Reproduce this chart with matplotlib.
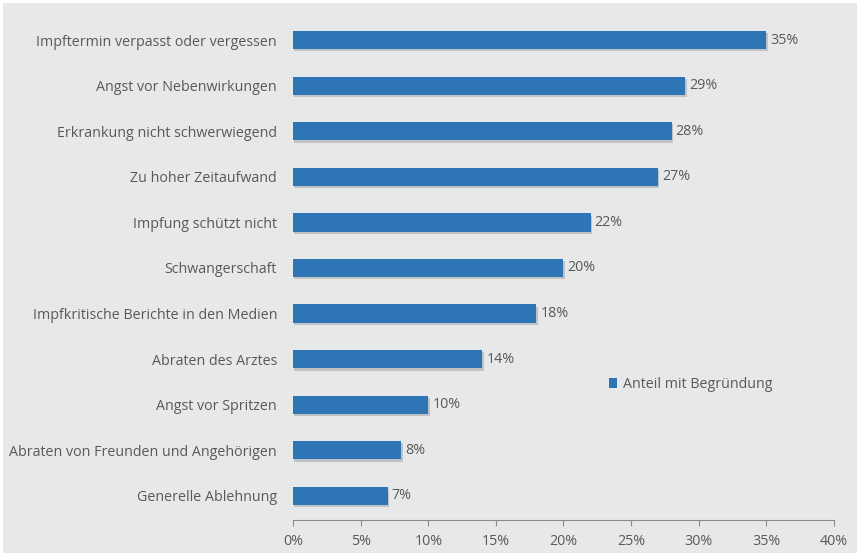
import numpy as np
import matplotlib.pyplot as plt
from matplotlib.patches import Patch

categories = [
    "Impftermin verpasst oder vergessen",
    "Angst vor Nebenwirkungen",
    "Erkrankung nicht schwerwiegend",
    "Zu hoher Zeitaufwand",
    "Impfung schützt nicht",
    "Schwangerschaft",
    "Impfkritische Berichte in den Medien",
    "Abraten des Arztes",
    "Angst vor Spritzen",
    "Abraten von Freunden und Angehörigen",
    "Generelle Ablehnung",
]
values = [35, 29, 28, 27, 22, 20, 18, 14, 10, 8, 7]
xticks = [0, 5, 10, 15, 20, 25, 30, 35, 40]
series_name = "Anteil mit Begründung"

bar_color = "#2e75b6"
bg = "#e7e8ea"
text_color = "#595959"

plt.rcParams['font.family'] = ['Open Sans', 'DejaVu Sans']

fig = plt.figure(figsize=(8.57, 5.53), dpi=100)
fig.patch.set_facecolor("white")
# grey panel behind everything
bgrect = plt.Rectangle((0.004, 0.0), 0.996, 0.994, transform=fig.transFigure,
                       facecolor=bg, edgecolor="none", zorder=-10)
fig.add_artist(bgrect)

ax = fig.add_axes([0.342, 0.0597, 0.631, 0.909])
ax.set_facecolor("none")
ax.set_zorder(5)

y = np.arange(len(categories))
# soft shadow under the bars
ax.barh(y + 0.05, values, height=0.4, left=0.1, color="#8a8a8a", alpha=0.4, zorder=1)
ax.barh(y, values, height=0.4, color=bar_color, zorder=2)

for yi, v in zip(y, values):
    ax.text(v + 0.3, yi, f"{v}%", va="center", ha="left", fontsize=10.3, color=text_color)

ax.set_ylim(len(categories) - 0.47, -0.5)
ax.set_xlim(0, 40)
ax.set_yticks(y)
ax.set_yticklabels(categories, fontsize=10.3, color=text_color)
ax.tick_params(axis="y", length=0, pad=11.5)
ax.set_xticks(xticks)
ax.set_xticklabels([f"{t}%" for t in xticks], fontsize=10.3, color=text_color)
ax.tick_params(axis="x", length=4, color="#8c8c8c", direction="out", pad=6)

for s in ["top", "right", "left"]:
    ax.spines[s].set_visible(False)
ax.spines["bottom"].set_color("#8c8c8c")

ax.legend(handles=[Patch(facecolor=bar_color, edgecolor="none", label=series_name)],
          loc="upper left", bbox_to_anchor=(0.56, 0.31), frameon=False,
          fontsize=10.3, labelcolor=text_color, handlelength=0.6, handleheight=0.6,
          handletextpad=0.4)

fig.savefig("out.png", dpi=100)
